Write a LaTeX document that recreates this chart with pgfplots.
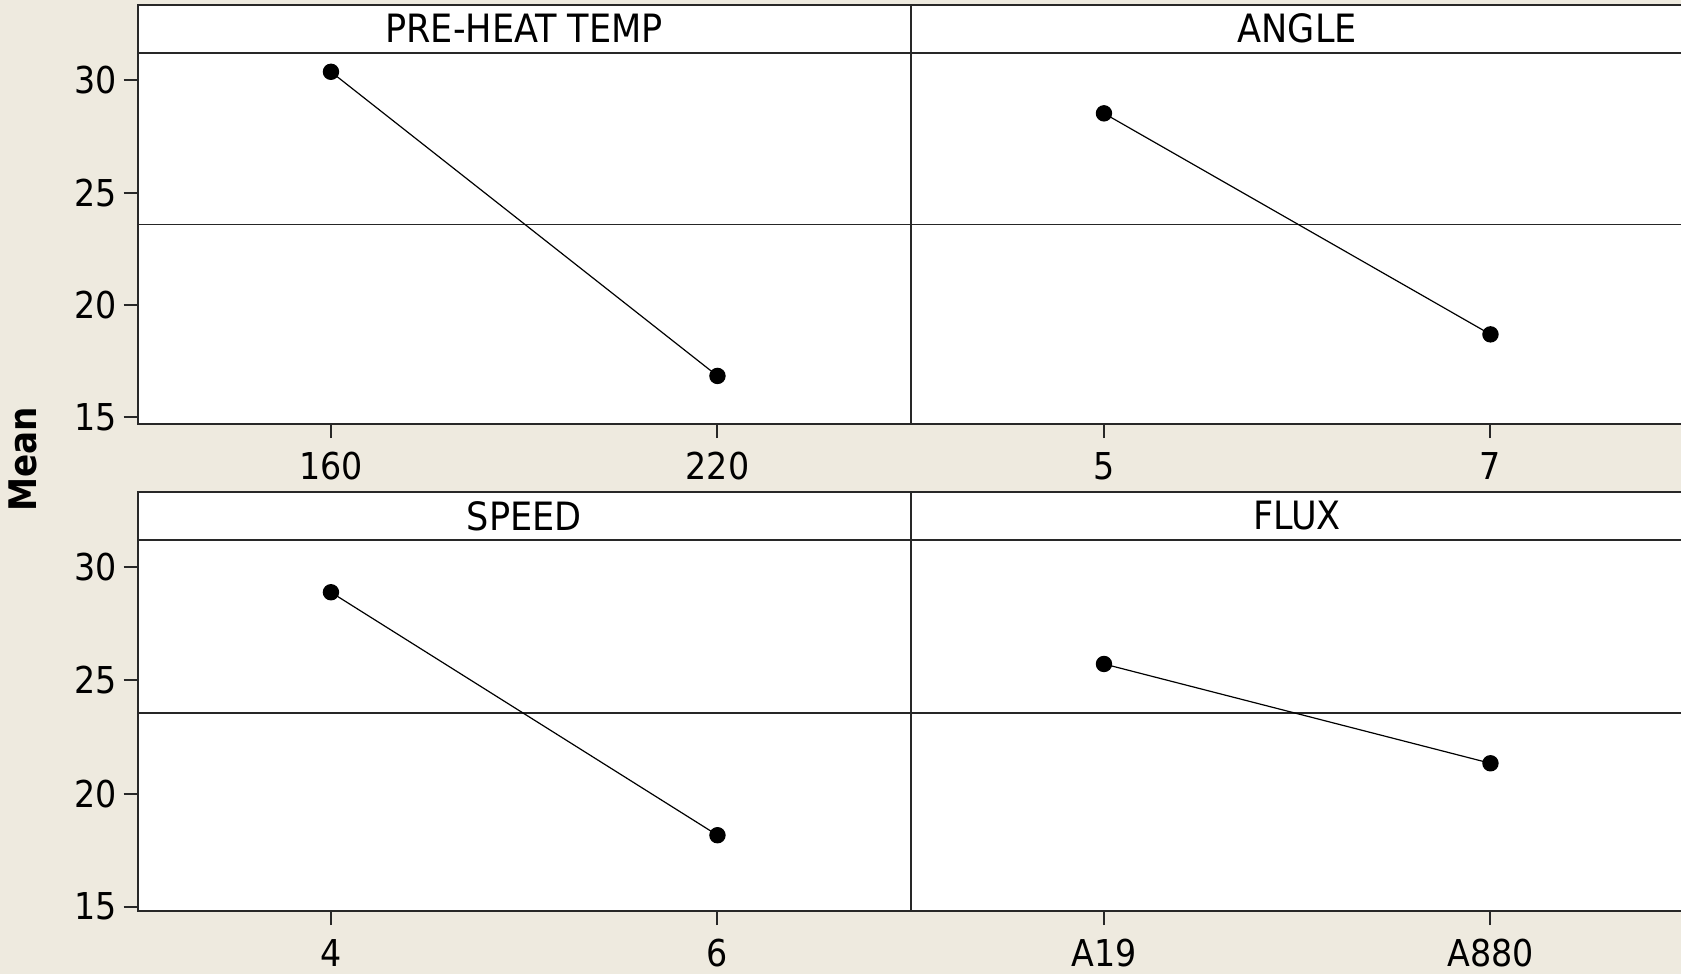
\documentclass[border=0pt]{standalone}
\usepackage{fontspec}
\setmainfont{DejaVu Sans Condensed}
\usepackage{pgfplots}
\pgfplotsset{compat=1.18}
\definecolor{bg}{RGB}{238,234,223}
\definecolor{axln}{RGB}{40,40,40}
\pgfplotsset{
 panel/.style={
  scale only axis, width=386.5pt, clip=false,
  xmin=0.5, xmax=2.5, xtick={1,2},
  axis background/.style={fill=white},
  axis line style={line width=1pt, axln},
  every tick/.style={line width=1pt, axln},
  tick align=outside, major tick length=7pt,
  xtick pos=bottom, ytick pos=left,
  tick label style={font=\fontsize{18.5}{20}\selectfont, text=black},
  /pgf/number format/assume math mode=true,
  xticklabel style={yshift=-3.5pt},
 },
 toprow/.style={height=185.65pt, ymin=14.70, ymax=31.23},
 botrow/.style={height=185.5pt, ymin=14.81, ymax=31.21},
 leftcol/.style={ytick={15,20,25,30}},
 rightcol/.style={ytick=\empty},
 meanline/.style={black!85, line width=0.7pt, forget plot},
 series/.style={black, line width=0.6pt, mark=*, mark size=3.8pt, mark options={fill=black}},
}
\newcommand{\strip}[1]{%
  \draw[line width=1pt, axln, fill=white] (rel axis cs:0,1) rectangle (rel axis cs:1,1.1293);
  \node[font=\fontsize{19.5}{21}\selectfont] at (rel axis cs:0.5,1.0646) {#1};
}
\begin{document}
\begin{tikzpicture}
\fill[bg] (0pt,0pt) rectangle (840.5pt,-487pt);
% top-left
\begin{axis}[panel, toprow, leftcol, at={(68.85pt,-212pt)}, anchor=south west,
  xticklabels={160,220}]
  \addplot[meanline] coordinates {(0.5,23.57) (2.5,23.57)};
  \addplot[series] coordinates {(1,30.38) (2,16.84)};
  \strip{PRE-HEAT TEMP}
\end{axis}
% top-right
\begin{axis}[panel, toprow, rightcol, at={(455.35pt,-212pt)}, anchor=south west,
  xticklabels={5,7}]
  \addplot[meanline] coordinates {(0.5,23.57) (2.5,23.57)};
  \addplot[series] coordinates {(1,28.53) (2,18.69)};
  \strip{ANGLE}
\end{axis}
% bottom-left
\begin{axis}[panel, botrow, leftcol, at={(68.85pt,-455.5pt)}, anchor=south west,
  xticklabels={4,6}]
  \addplot[meanline] coordinates {(0.5,23.57) (2.5,23.57)};
  \addplot[series] coordinates {(1,28.90) (2,18.16)};
  \strip{SPEED}
\end{axis}
% bottom-right
\begin{axis}[panel, botrow, rightcol, at={(455.35pt,-455.5pt)}, anchor=south west,
  xticklabels={A19,A880}]
  \addplot[meanline] coordinates {(0.5,23.57) (2.5,23.57)};
  \addplot[series] coordinates {(1,25.73) (2,21.34)};
  \strip{FLUX}
\end{axis}
\node[rotate=90, font=\fontsize{19}{21}\selectfont\bfseries] at (11.5pt,-229.5pt) {Mean};
\pgfresetboundingbox
\path[use as bounding box] (0pt,0pt) rectangle (840.5pt,-487pt);
\end{tikzpicture}
\end{document}
